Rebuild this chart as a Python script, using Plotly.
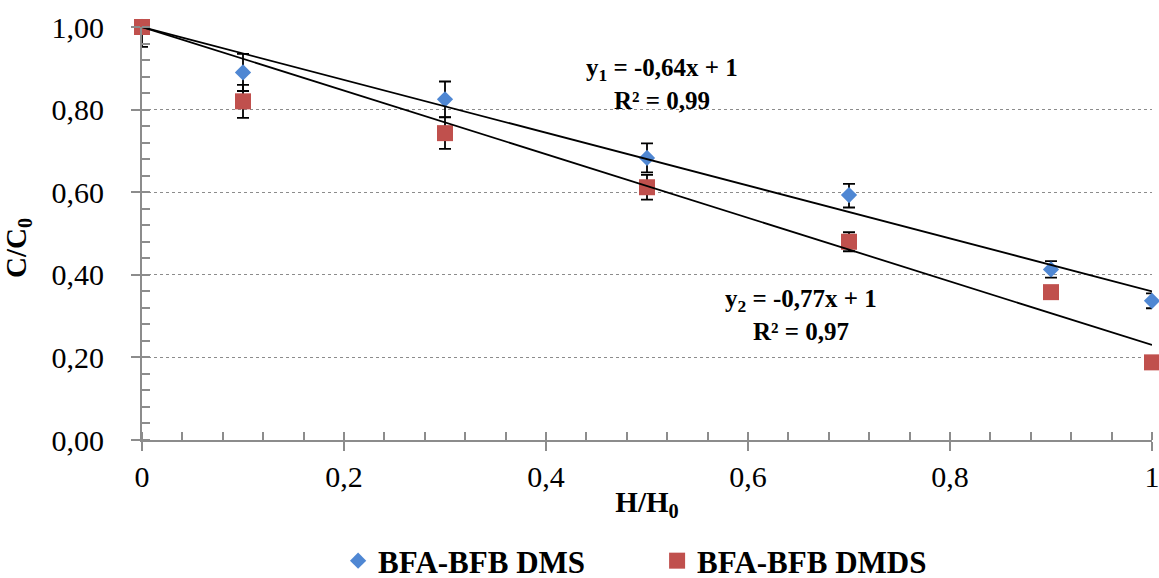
import plotly.graph_objects as go

# Data
x_vals = [0, 0.1, 0.3, 0.5, 0.7, 0.9, 1.0]
dms = [1.00, 0.89, 0.825, 0.683, 0.593, 0.413, 0.337]
dmds = [1.00, 0.82, 0.743, 0.612, 0.48, 0.358, 0.188]
dms_err_plus = [0.0, 0.045, 0.043, 0.035, 0.027, 0.02, 0.018]
dms_err_minus = [0.048, 0.045, 0.043, 0.035, 0.03, 0.02, 0.018]
dmds_err = [0.0, 0.04, 0.038, 0.03, 0.023, 0.015, 0.0]
slopes = [-0.64, -0.77]
intercepts = [1.0, 1.0]
fit_x = [0, 1]
series_names = ["BFA-BFB DMS", "BFA-BFB DMDS"]
x_ticks = [0, 0.2, 0.4, 0.6, 0.8, 1.0]
x_ticktext = ["0", "0,2", "0,4", "0,6", "0,8", "1"]
eq_labels = ["<b>y<sub>1</sub> = -0,64x + 1<br>R² = 0,99</b>",
             "<b>y<sub>2</sub> = -0,77x + 1<br>R² = 0,97</b>"]

FONT = "Liberation Serif, Times New Roman, serif"
BLUE = "#4F87D3"
RED = "#C0504D"
GRAY = "#8C8C8C"

fig = go.Figure()
fig.add_trace(go.Scatter(
    x=x_vals, y=dms, mode="markers", name=series_names[0],
    marker=dict(symbol="diamond", size=12.5, color=BLUE),
    error_y=dict(type="data", symmetric=False, array=dms_err_plus,
                 arrayminus=dms_err_minus, color="black", thickness=1.8, width=6),
    cliponaxis=False,
))
fig.add_trace(go.Scatter(
    x=x_vals, y=dmds, mode="markers", name=series_names[1],
    marker=dict(symbol="square", size=16, color=RED),
    error_y=dict(type="data", array=dmds_err, color="black", thickness=1.8, width=6),
    cliponaxis=False,
))
for s, b in zip(slopes, intercepts):
    fig.add_trace(go.Scatter(
        x=fit_x, y=[s * xx + b for xx in fit_x], mode="lines",
        line=dict(color="black", width=1.8), showlegend=False, hoverinfo="skip",
        cliponaxis=False,
    ))

fig.add_annotation(x=0.515, y=0.862, text=eq_labels[0], showarrow=False,
                   font=dict(family=FONT, size=25, color="black"), align="center")
fig.add_annotation(x=0.652, y=0.302, text=eq_labels[1], showarrow=False,
                   font=dict(family=FONT, size=25, color="black"), align="center")

fig.update_layout(
    width=1159, height=578,
    margin=dict(l=142, r=7, t=27, b=138, autoexpand=False),
    paper_bgcolor="white", plot_bgcolor="white",
    separators=", ",
    font=dict(family=FONT, color="black"),
    showlegend=True,
    legend=dict(orientation="h", x=0.510, xanchor="center", y=-0.293, yanchor="middle",
                font=dict(family=FONT, size=31, color="black", weight="bold"),
                entrywidth=274, entrywidthmode="pixels"),
    xaxis=dict(
        range=[0, 1], tickmode="array", tickvals=x_ticks, ticktext=x_ticktext,
        showgrid=False, zeroline=False, automargin=False, ticklabeloverflow="allow",
        showline=True, linecolor=GRAY, linewidth=2,
        ticks="outside", ticklen=9, tickwidth=1.5, tickcolor=GRAY,
        minor=dict(dtick=0.04, ticks="inside", ticklen=8, tickwidth=1.5, tickcolor=GRAY, showgrid=False),
        tickfont=dict(family=FONT, size=30, color="black"),
        ticklabelstandoff=0,
        title=dict(text="<b>H/H<sub>0</sub></b>", font=dict(family=FONT, size=29, color="black"), standoff=0),
    ),
    yaxis=dict(
        range=[0, 1], dtick=0.2, tickformat=".2f",
        showgrid=True, gridcolor=GRAY, griddash="dot", gridwidth=1.2,
        zeroline=False, automargin=False, ticklabeloverflow="allow",
        showline=True, linecolor=GRAY, linewidth=2,
        ticks="outside", ticklen=9, tickwidth=1.5, tickcolor=GRAY,
        minor=dict(dtick=0.04, ticks="inside", ticklen=8, tickwidth=1.5, tickcolor=GRAY, showgrid=False),
        tickfont=dict(family=FONT, size=30, color="black"),
        ticklabelstandoff=21,
        title=dict(text="<b>C/C<sub>0</sub>\u00a0\u00a0\u00a0\u00a0</b>", font=dict(family=FONT, size=29, color="black"), standoff=17),
    ),
)

fig.write_html("out.html",
               config={"displayModeBar": False},
               post_script="document.body.style.margin='0';document.body.style.overflow='hidden';")
